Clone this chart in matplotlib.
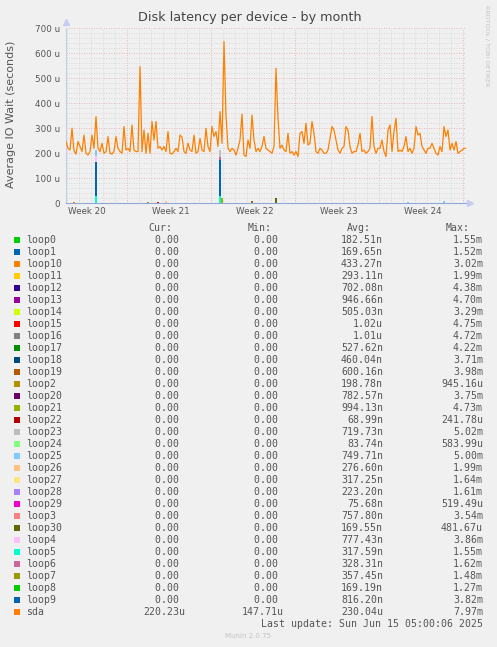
import numpy as np
import matplotlib
matplotlib.use('agg')
import matplotlib.pyplot as plt
from matplotlib.patches import Rectangle

# sda latency in microseconds, one sample every 4 hours
sda_values = [
    247, 220, 213, 300, 210, 197, 247, 227, 207, 273,
    200, 193, 207, 273, 220, 347, 220, 207, 240, 200,
    207, 267, 200, 197, 207, 267, 220, 207, 200, 307,
    213, 220, 207, 313, 213, 207, 207, 547, 207, 293,
    200, 280, 200, 327, 253, 327, 220, 227, 213, 227,
    207, 287, 200, 197, 207, 220, 207, 273, 265, 207,
    200, 240, 213, 207, 273, 200, 207, 260, 213, 207,
    300, 227, 207, 307, 267, 287, 227, 367, 240, 647,
    353, 220, 207, 220, 213, 193, 220, 253, 357, 193,
    187, 253, 220, 353, 253, 207, 220, 207, 227, 267,
    220, 213, 207, 200, 227, 540, 340, 220, 233, 213,
    207, 280, 200, 207, 193, 207, 187, 280, 287, 240,
    320, 233, 240, 327, 280, 207, 200, 220, 213, 200,
    200, 213, 260, 307, 293, 253, 213, 200, 220, 227,
    307, 293, 227, 200, 207, 207, 233, 280, 207, 213,
    200, 207, 220, 347, 227, 200, 220, 220, 253, 207,
    187, 293, 313, 207, 287, 340, 207, 213, 207, 227,
    267, 207, 220, 200, 220, 307, 273, 280, 227, 213,
    200, 220, 220, 240, 220, 200, 193, 227, 207, 307,
    267, 293, 213, 240, 213, 247, 200, 207, 213, 220,
    220,
]

# the loop devices are zero except for a few short bursts: (sample index, value in u)
loop_bursts = {
    'loop10': [(4, 7)],
    'loop2': [(41, 7)],
    'loop15': [(46, 6)],
    'loop26': [(50, 10)],
    'loop19': [(93, 10)],
    'loop30': [(105, 20)],
    'loop21': [(78, 20)],
    'loop25': [(15, 213), (171, 6), (189, 8)],
    'loop23': [(77, 213)],
    'loop4': [(15, 190)],
    'loop6': [(77, 185)],
    'loop9': [(15, 165), (77, 172)],
    'loop5': [(15, 30), (77, 30)],
}

names = ['loop0', 'loop1', 'loop10', 'loop11', 'loop12', 'loop13', 'loop14', 'loop15',
         'loop16', 'loop17', 'loop18', 'loop19', 'loop2', 'loop20', 'loop21', 'loop22',
         'loop23', 'loop24', 'loop25', 'loop26', 'loop27', 'loop28', 'loop29', 'loop3',
         'loop30', 'loop4', 'loop5', 'loop6', 'loop7', 'loop8', 'loop9', 'sda']
cur_vals = ['0.00'] * 31 + ['220.23u']
min_vals = ['0.00'] * 31 + ['147.71u']
avg_vals = ['182.51n', '169.65n', '433.27n', '293.11n', '702.08n', '946.66n', '505.03n', '1.02u',
            '1.01u', '527.62n', '460.04n', '600.16n', '198.78n', '782.57n', '994.13n', '68.99n',
            '719.73n', '83.74n', '749.71n', '276.60n', '317.25n', '223.20n', '75.68n', '757.80n',
            '169.55n', '777.43n', '317.59n', '328.31n', '357.45n', '169.19n', '816.20n', '230.04u']
max_vals = ['1.55m', '1.52m', '3.02m', '1.99m', '4.38m', '4.70m', '3.29m', '4.75m',
            '4.72m', '4.22m', '3.71m', '3.98m', '945.16u', '3.75m', '4.73m', '241.78u',
            '5.02m', '583.99u', '5.00m', '1.99m', '1.64m', '1.61m', '519.49u', '3.54m',
            '481.67u', '3.86m', '1.55m', '1.62m', '1.48m', '1.27m', '3.82m', '7.97m']
week_labels = ['Week 20', 'Week 21', 'Week 22', 'Week 23', 'Week 24']
y_ticks = [0, 100, 200, 300, 400, 500, 600, 700]

palette = ['#00CC00', '#0066B3', '#FF8000', '#FFCC00', '#330099', '#990099', '#CCFF00', '#FF0000',
           '#808080', '#008F00', '#00487D', '#B35A00', '#B38F00', '#6B006B', '#8FB300', '#B30000',
           '#BEBEBE', '#80FF80', '#80C9FF', '#FFC080', '#FFE680', '#AA80FF', '#EE00CC', '#FF8080',
           '#666600', '#FFBFFF', '#00FFCC', '#CC6699', '#999900']
colors = [palette[i % len(palette)] for i in range(len(names))]

W, H = 497, 647
BG = '#F0F0F0'
TXT = '#555555'


def fx(x):
    return x / W


def fy(y):
    return 1 - y / H


fig = plt.figure(figsize=(W / 100, H / 100), dpi=100, facecolor=BG)
ax = fig.add_axes([fx(66), fy(203.3), 400 / W, 175 / H])
ax.set_facecolor(BG)

hours = np.arange(len(sda_values)) * 4
ax.set_xlim(0, 800)
ax.set_ylim(0, 700)

# grid: daily / 20u minor, weekly / 100u major
for h in range(2, 800, 24):
    major = (h - 122) % 168 == 0
    ax.axvline(h, color='#E2A8A8' if major else '#D0D0D0', lw=0.6,
               ls=(0, (1, 2)), zorder=0)
for v in range(20, 701, 20):
    ax.axhline(v, color='#E2A8A8' if v % 100 == 0 else '#D0D0D0', lw=0.6,
               ls=(0, (1, 2)), zorder=0)

# loop devices: taller bursts first so the short ones stay visible on top
loop_series = {}
for name in names[:-1]:
    series = np.zeros(len(sda_values))
    for idx, val in loop_bursts.get(name, []):
        series[idx] = val
    loop_series[name] = series
order = sorted(loop_series, key=lambda n: -loop_series[n].max())
for z, name in enumerate(order):
    col = colors[names.index(name)]
    ax.fill_between(hours, loop_series[name], step='mid', color=col, lw=0, zorder=2 + z * 0.01)

ax.plot(hours, sda_values, color=colors[-1], lw=0.9, zorder=3)

for s in ['top', 'right']:
    ax.spines[s].set_visible(False)
ax.spines['left'].set_color('#C4CCF0')
ax.spines['bottom'].set_color('#8FA8DC')
ax.spines['left'].set_linewidth(0.8)
ax.spines['bottom'].set_linewidth(0.8)
ax.spines['bottom'].set_zorder(4)
ax.plot([0], [724], marker='^', ms=4, color='#C4CCF0', clip_on=False)
ax.plot([808], [0], marker='>', ms=4, color='#C4CCF0', clip_on=False)

ax.set_yticks(y_ticks)
ax.set_yticklabels(['0' if v == 0 else f'{v} u' for v in y_ticks])
ax.set_xticks([42 + 168 * k for k in range(len(week_labels))])
ax.set_xticklabels(week_labels)
ax.tick_params(length=0, labelsize=6.3, labelcolor=TXT)
ax.tick_params(axis='y', pad=4.5)
ax.tick_params(axis='x', pad=3)

fig.text(fx(250), fy(18), 'Disk latency per device - by month', ha='center', va='center',
         fontsize=9.2, color='#444444')
fig.text(fx(11.5), fy(114), 'Average IO Wait (seconds)', rotation=90, ha='center', va='center',
         fontsize=8, color=TXT)
fig.text(fx(487), fy(5), 'RRDTOOL / TOBI OETIKER', rotation=270, ha='center', va='top',
         fontsize=4.6, color='#C4C4C4')

# legend table
mono = 'DejaVu Sans Mono'
lfs = 7.1
hdr_y = 228
for label, xr in [('Cur:', 172), ('Min:', 272), ('Avg:', 371), ('Max:', 470)]:
    fig.text(fx(xr), fy(hdr_y), label, ha='right', va='center', family=mono, fontsize=lfs, color=TXT)

for i, name in enumerate(names):
    y = 240 + 12 * i
    fig.add_artist(Rectangle((fx(14), fy(y + 3)), 6 / W, 6 / H, transform=fig.transFigure,
                             color=colors[i], lw=0))
    fig.text(fx(26), fy(y), name, ha='left', va='center', family=mono, fontsize=lfs, color=TXT)
    cur = cur_vals[i] if cur_vals[i][-1].isalpha() else cur_vals[i] + ' '
    mn = min_vals[i] if min_vals[i][-1].isalpha() else min_vals[i] + ' '
    fig.text(fx(185), fy(y), cur, ha='right', va='center', family=mono, fontsize=lfs, color=TXT)
    fig.text(fx(284), fy(y), mn, ha='right', va='center', family=mono, fontsize=lfs, color=TXT)
    fig.text(fx(383), fy(y), avg_vals[i], ha='right', va='center', family=mono, fontsize=lfs, color=TXT)
    fig.text(fx(483), fy(y), max_vals[i], ha='right', va='center', family=mono, fontsize=lfs, color=TXT)

fig.text(fx(483), fy(624), 'Last update: Sun Jun 15 05:00:06 2025', ha='right', va='center',
         family=mono, fontsize=lfs, color=TXT)
fig.text(fx(248), fy(636), 'Munin 2.0.75', ha='center', va='center', fontsize=5, color='#C4C4C4')

fig.savefig('out.png', dpi=100, facecolor=BG)
